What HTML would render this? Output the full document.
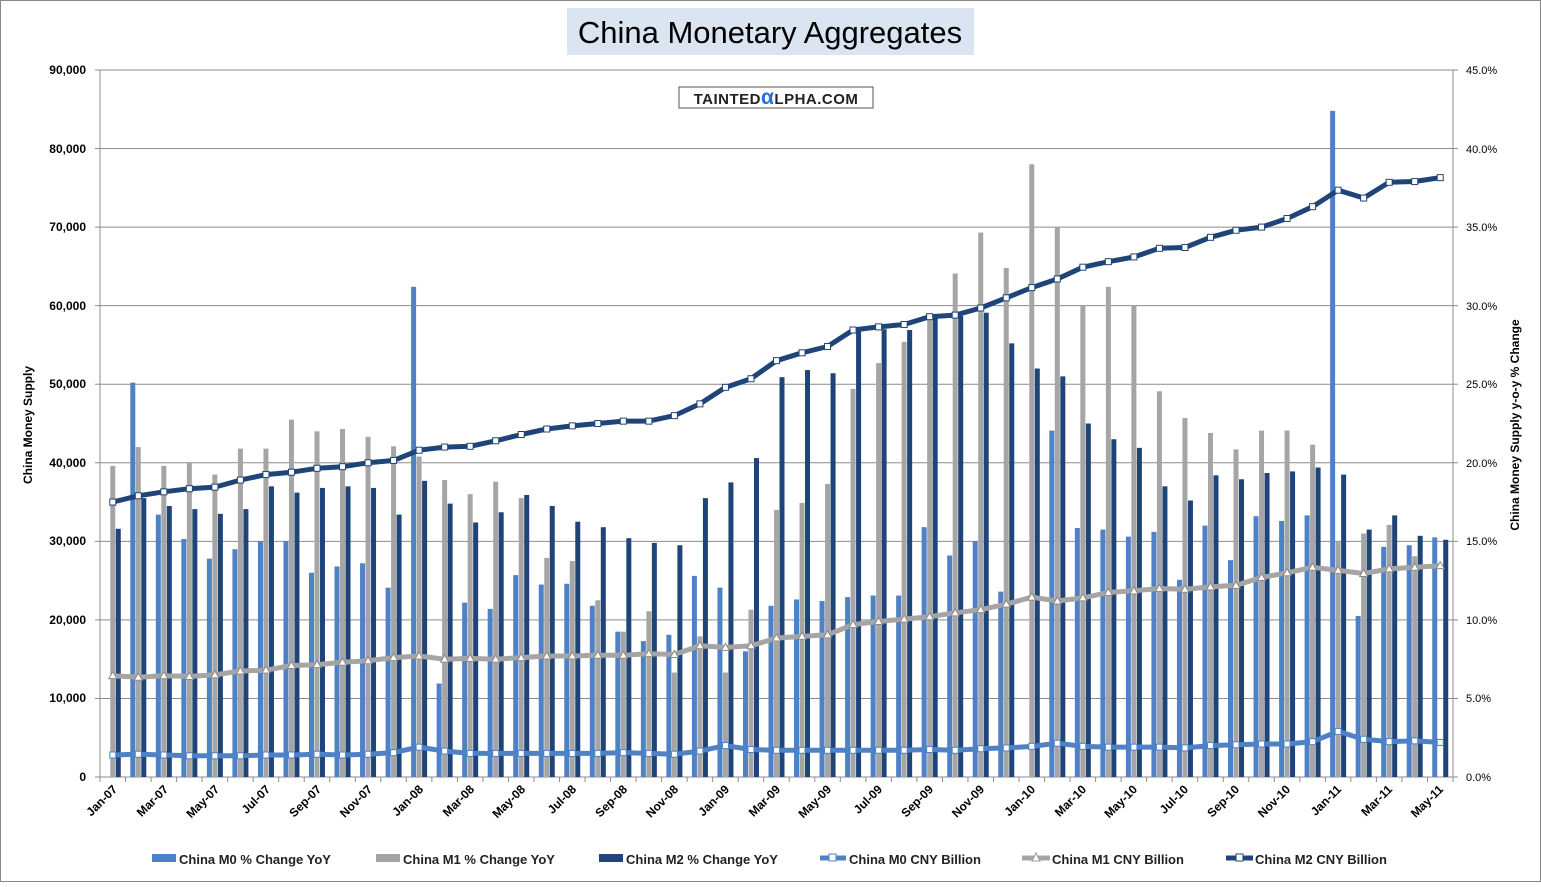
<!DOCTYPE html>
<html><head><meta charset="utf-8">
<style>
html,body{margin:0;padding:0;background:#fff;}
body{width:1541px;height:882px;overflow:hidden;font-family:"Liberation Sans",sans-serif;}
svg text{font-family:"Liberation Sans",sans-serif;}
</style></head>
<body>
<svg id="s" width="1541" height="882" xmlns="http://www.w3.org/2000/svg">
<rect x="0.5" y="0.5" width="1540" height="881" fill="#fff" stroke="#888"/>
<rect x="567" y="8" width="407" height="47" fill="#dbe5f1"/>
<text x="770" y="43" text-anchor="middle" font-size="31" fill="#000">China Monetary Aggregates</text>
<g id="grid" stroke="#8c8c8c" stroke-width="1"></g>
<g id="bars"></g>
<g id="lines"></g>
<rect x="679" y="87" width="194" height="21" fill="#fff" stroke="#555"/>
<text x="776" y="104" text-anchor="middle" font-size="15" font-weight="bold" fill="#222" letter-spacing="0.5">TAINTED<tspan fill="#2a6fd6" font-size="21">α</tspan>LPHA.COM</text>
<g font-size="12" font-weight="bold" fill="#000" text-anchor="end">
<text x="86" y="74">90,000</text><text x="86" y="153">80,000</text><text x="86" y="231">70,000</text>
<text x="86" y="310">60,000</text><text x="86" y="388">50,000</text><text x="86" y="467">40,000</text>
<text x="86" y="545">30,000</text><text x="86" y="624">20,000</text><text x="86" y="702">10,000</text>
<text x="86" y="781">0</text>
</g>
<g font-size="11" fill="#000" text-anchor="start">
<text x="1466" y="74">45.0%</text><text x="1466" y="153">40.0%</text><text x="1466" y="231">35.0%</text>
<text x="1466" y="310">30.0%</text><text x="1466" y="388">25.0%</text><text x="1466" y="467">20.0%</text>
<text x="1466" y="545">15.0%</text><text x="1466" y="624">10.0%</text><text x="1466" y="702">5.0%</text>
<text x="1466" y="781">0.0%</text>
</g>
<text transform="translate(32,425) rotate(-90)" text-anchor="middle" font-size="12" font-weight="bold">China Money Supply</text>
<text transform="translate(1519,425) rotate(-90)" text-anchor="middle" font-size="12" font-weight="bold">China Money Supply y-o-y % Change</text>
<g font-size="12" font-weight="bold" text-anchor="end">
<text transform="translate(118,790) rotate(-45)">Jan-07</text>
<text transform="translate(169,790) rotate(-45)">Mar-07</text>
<text transform="translate(220,790) rotate(-45)">May-07</text>
<text transform="translate(271,790) rotate(-45)">Jul-07</text>
<text transform="translate(322,790) rotate(-45)">Sep-07</text>
<text transform="translate(373,790) rotate(-45)">Nov-07</text>
<text transform="translate(424,790) rotate(-45)">Jan-08</text>
<text transform="translate(475,790) rotate(-45)">Mar-08</text>
<text transform="translate(526,790) rotate(-45)">May-08</text>
<text transform="translate(577,790) rotate(-45)">Jul-08</text>
<text transform="translate(628,790) rotate(-45)">Sep-08</text>
<text transform="translate(679,790) rotate(-45)">Nov-08</text>
<text transform="translate(730,790) rotate(-45)">Jan-09</text>
<text transform="translate(781,790) rotate(-45)">Mar-09</text>
<text transform="translate(832,790) rotate(-45)">May-09</text>
<text transform="translate(883,790) rotate(-45)">Jul-09</text>
<text transform="translate(934,790) rotate(-45)">Sep-09</text>
<text transform="translate(985,790) rotate(-45)">Nov-09</text>
<text transform="translate(1036,790) rotate(-45)">Jan-10</text>
<text transform="translate(1087,790) rotate(-45)">Mar-10</text>
<text transform="translate(1138,790) rotate(-45)">May-10</text>
<text transform="translate(1189,790) rotate(-45)">Jul-10</text>
<text transform="translate(1240,790) rotate(-45)">Sep-10</text>
<text transform="translate(1291,790) rotate(-45)">Nov-10</text>
<text transform="translate(1342,790) rotate(-45)">Jan-11</text>
<text transform="translate(1393,790) rotate(-45)">Mar-11</text>
<text transform="translate(1444,790) rotate(-45)">May-11</text>
</g>
<g font-size="13" font-weight="bold" fill="#222">
<rect x="152" y="854" width="24" height="8" fill="#4f81c6"/><text x="179" y="864">China M0 % Change YoY</text>
<rect x="376" y="854" width="24" height="8" fill="#a5a5a5"/><text x="403" y="864">China M1 % Change YoY</text>
<rect x="599" y="854" width="24" height="8" fill="#1f4478"/><text x="626" y="864">China M2 % Change YoY</text>
<line x1="820" y1="858" x2="846" y2="858" stroke="#4f81c6" stroke-width="5"/><rect x="829" y="854" width="7" height="7" fill="#fff" stroke="#4f81c6"/><text x="849" y="864">China M0 CNY Billion</text>
<line x1="1022" y1="858" x2="1050" y2="858" stroke="#a5a5a5" stroke-width="5"/><path d="M1036 853 L1040 861 L1032 861Z" fill="#fff" stroke="#999"/><text x="1052" y="864">China M1 CNY Billion</text>
<line x1="1226" y1="858" x2="1253" y2="858" stroke="#1f4478" stroke-width="5"/><rect x="1236" y="854" width="7" height="7" fill="#fff" stroke="#1f4478"/><text x="1255" y="864">China M2 CNY Billion</text>
</g>
</svg>
<script>
(function(){
var NS="http://www.w3.org/2000/svg";
function el(p,t,a){var e=document.createElementNS(NS,t);for(var k in a)e.setAttribute(k,a[k]);p.appendChild(e);return e;}
var X0=100,X1=1453,Y0=777,H=707,N=53,cw=(X1-X0)/N;
function y(v){return Y0-v/90000*H;}
function cx(i){return X0+cw*(i+0.5);}
var g=document.getElementById('grid');
for(var k=1;k<=9;k++)el(g,'line',{x1:X0,x2:X1,y1:y(k*10000),y2:y(k*10000)});
el(g,'line',{x1:X0,x2:X0,y1:70,y2:Y0});
el(g,'line',{x1:X1,x2:X1,y1:70,y2:Y0});
el(g,'line',{x1:X0,x2:X1,y1:Y0,y2:Y0});
for(var k=0;k<=9;k++){el(g,'line',{x1:X0-5,x2:X0,y1:y(k*10000),y2:y(k*10000)});el(g,'line',{x1:X1,x2:X1+5,y1:y(k*10000),y2:y(k*10000)});}
for(var i=0;i<=N;i++)el(g,'line',{x1:X0+cw*i,x2:X0+cw*i,y1:Y0,y2:Y0+5});
var m0=[0,50200,33400,30300,27800,29000,30000,30000,26000,26800,27200,24100,62400,11900,22200,21400,25700,24500,24600,21800,18500,17300,18100,25600,24100,16000,21800,22600,22400,22900,23100,23100,31800,28200,30000,23600,0,44100,31700,31500,30600,31200,25100,32000,27600,33200,32600,33300,84800,20500,29300,29500,30500];
var m1=[39600,42000,39600,40000,38500,41800,41800,45500,44000,44300,43300,42100,40800,37800,36000,37600,35500,27900,27500,22500,18500,21100,13300,17900,13300,21300,34000,34900,37300,49400,52700,55400,58600,64100,69300,64800,78000,70000,60000,62400,60000,49100,45700,43800,41700,44100,44100,42300,30000,31000,32100,28100,0];
var m2=[31600,35500,34500,34100,33500,34100,37000,36200,36800,37000,36800,33400,37700,34800,32400,33700,35900,34500,32500,31800,30400,29800,29500,35500,37500,40600,50900,51800,51400,56900,57000,56900,58400,58700,59100,55200,52000,51000,45000,43000,41900,37000,35200,38400,37900,38700,38900,39400,38500,31500,33300,30700,30200];
var b=document.getElementById('bars');
var bw=5;
for(var i=0;i<N;i++){var c=cx(i);
 [[m0,-8,'#4f81c6'],[m1,-2.5,'#a5a5a5'],[m2,3,'#1f4478']].forEach(function(s){var v=s[0][i];if(v>0)el(b,'rect',{x:c+s[1],y:y(v),width:bw,height:Y0-y(v),fill:s[2]});});
}
var L2=[35000,35800,36300,36700,36900,37800,38500,38800,39300,39500,40000,40300,41600,42000,42100,42800,43600,44300,44700,45000,45300,45300,46000,47500,49600,50700,53000,54000,54800,56900,57300,57600,58600,58800,59700,61000,62300,63400,64900,65600,66200,67300,67400,68700,69600,70000,71100,72600,74700,73700,75700,75800,76300];
var L1=[12900,12700,12900,12800,13000,13500,13600,14200,14300,14600,14800,15200,15400,15000,15100,15000,15200,15400,15400,15500,15500,15700,15600,16700,16500,16700,17700,17900,18100,19400,19800,20100,20400,20900,21300,22000,22900,22400,22800,23500,23700,24000,23900,24200,24400,25400,26000,26700,26300,25900,26500,26700,26900];
var L0=[2800,2900,2800,2700,2700,2700,2800,2800,2900,2800,2900,3100,3800,3300,3000,3000,3000,3000,3000,3000,3100,3000,2900,3300,4000,3500,3400,3400,3400,3400,3400,3400,3500,3400,3600,3700,3900,4300,3900,3800,3800,3800,3700,4000,4100,4200,4200,4500,5800,4800,4500,4600,4400];
var lg=document.getElementById('lines');
function line(d,col,tri,mk){var p='';for(var i=0;i<N;i++)p+=(i?'L':'M')+cx(i).toFixed(1)+' '+y(d[i]).toFixed(1);
 el(lg,'path',{d:p,fill:'none',stroke:col,'stroke-width':5,'stroke-linejoin':'round'});
 for(var i=0;i<N;i++){var X=cx(i),Y=y(d[i]);
  if(tri)el(lg,'path',{d:'M'+X+' '+(Y-4)+'L'+(X+4)+' '+(Y+3)+'L'+(X-4)+' '+(Y+3)+'Z',fill:'#fff',stroke:mk,'stroke-width':1});
  else el(lg,'rect',{x:X-3,y:Y-3,width:6,height:6,fill:'#fff',stroke:mk,'stroke-width':1});}
}
line(L0,'#4f81c6',false,'#4f81c6');
line(L1,'#a5a5a5',true,'#8a8a8a');
line(L2,'#1f4478',false,'#1f4478');
})();
</script>
</body></html>
